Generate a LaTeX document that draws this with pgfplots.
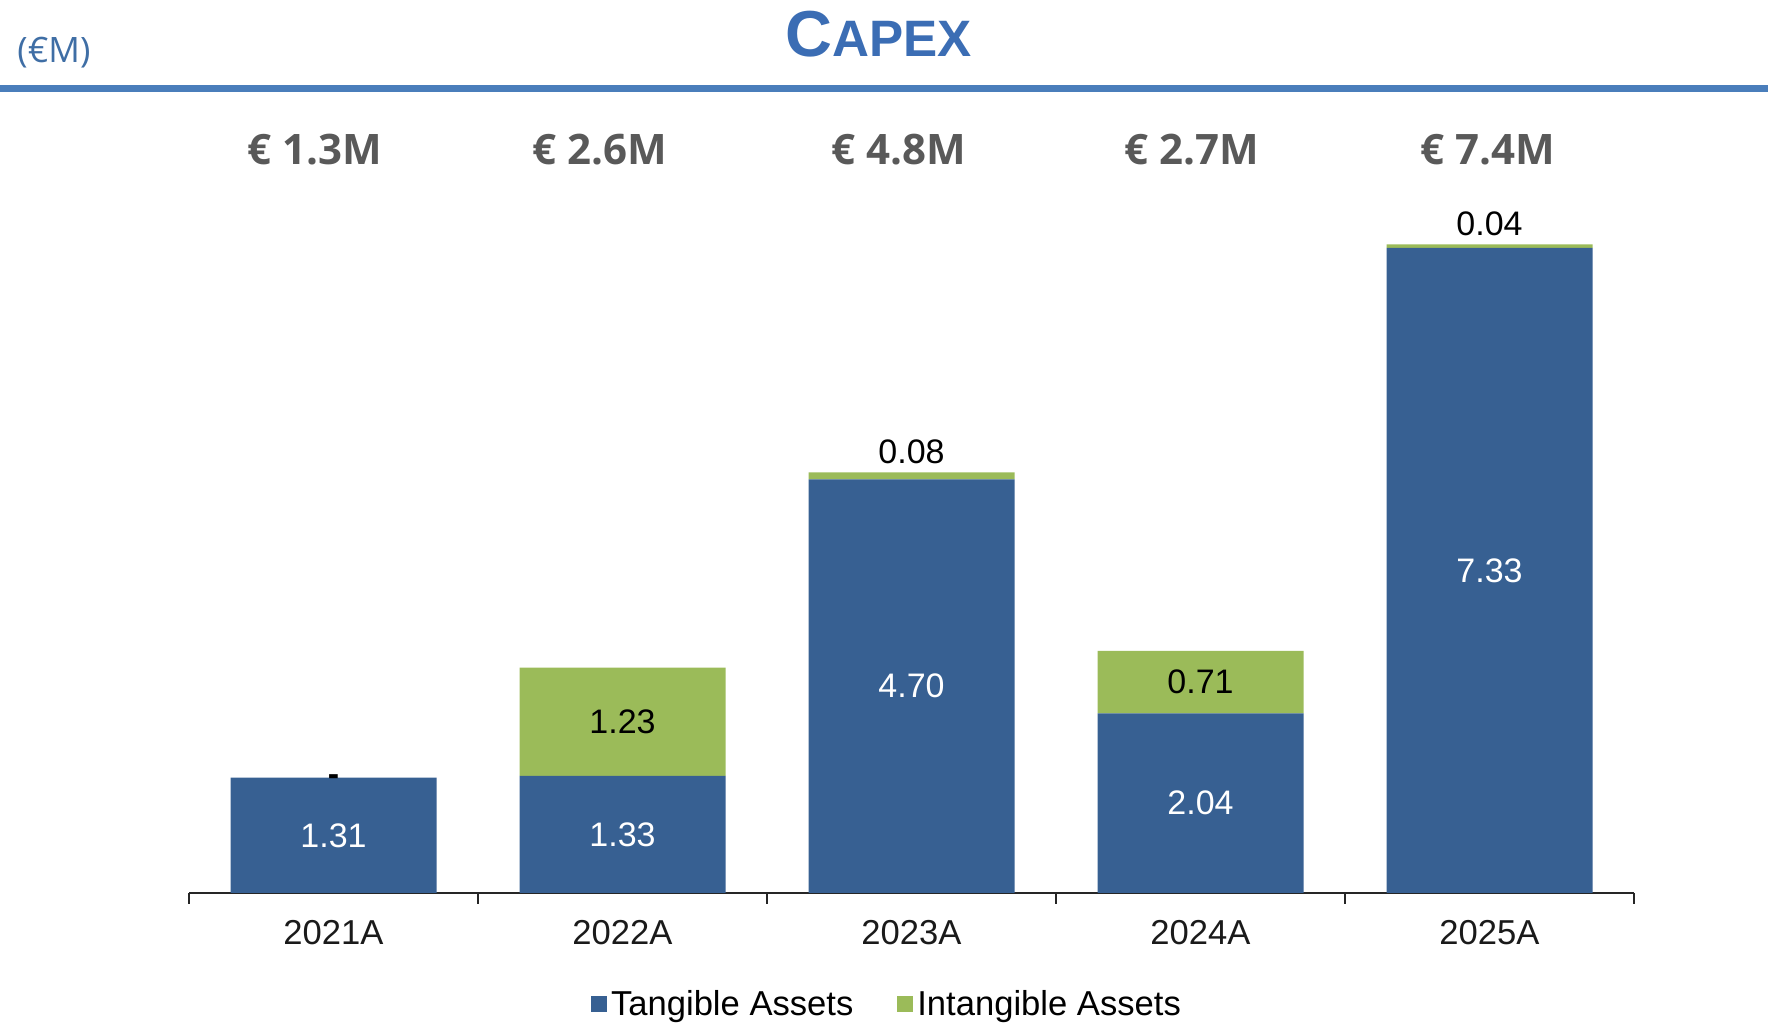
\documentclass[border=0pt]{standalone}
\usepackage{pgfplots}
\pgfplotsset{compat=1.18}
\usepackage{fontspec}
\setmainfont{Liberation Sans}
\newfontfamily\opensans{Open Sans}
\definecolor{tang}{HTML}{376092}
\definecolor{intang}{HTML}{9BBB59}
\definecolor{titleblue}{HTML}{3B6DB4}
\definecolor{rulecol}{HTML}{4A7EBB}
\definecolor{unitblue}{HTML}{3F6EA5}
\definecolor{totgray}{HTML}{595959}
\definecolor{axisgray}{HTML}{262626}
\definecolor{labelblack}{HTML}{1A1A1A}
\pgfplotsset{sqlegend/.style={legend image code/.code={\fill[##1] (0pt,-4pt) rectangle (8pt,4pt);}}}
\tikzset{dl/.style={font=\fontsize{17}{20}\selectfont, inner sep=0pt}}
\begin{document}
\begin{tikzpicture}
\useasboundingbox (0,0) rectangle (884pt,513.5pt);
\fill[rulecol] (0,467.5pt) rectangle (884pt,471pt);
\node[anchor=base, text=titleblue, inner sep=0pt] at (439.25pt,485pt) {\bfseries\fontsize{32.5}{36}\selectfont C\fontsize{25.6}{30}\selectfont APEX};
\node[anchor=base west, inner sep=0pt, text=unitblue] at (8.5pt,482pt) {\opensans\fontsize{17.5}{20}\selectfont (€M)};
\foreach \x/\t in {157.25/1.3, 300/2.6, 449.5/4.8, 596/2.7, 744/7.4}
  \node[anchor=base, inner sep=0pt, text=totgray] at (\x pt,431pt) {\opensans\bfseries\fontsize{21}{24}\selectfont € \t M};
\begin{axis}[
  at={(94.5pt,67pt)}, anchor=south west,
  scale only axis, width=722.5pt, height=352pt,
  xmin=-0.5, xmax=4.5, ymin=0, ymax=8,
  ybar stacked, bar width=103pt,
  axis x line*=bottom, axis y line=none,
  x axis line style={draw=axisgray, line width=1pt},
  xtick={0,...,4}, xticklabels={2021A,2022A,2023A,2024A,2025A},
  minor xtick={-0.5,0.5,...,4.5},
  major tick length=0pt, minor tick length=5.5pt,
  tick align=outside, tick style={draw=axisgray, line width=1pt},
  xticklabel style={font=\fontsize{17.3}{20}\selectfont, text=labelblack, yshift=-10pt},
  clip=false,
  legend columns=2,
  legend style={at={(0.4837,-0.158)}, anchor=center, draw=none, fill=none,
    font=\fontsize{17.3}{20}\selectfont,
    /tikz/every even column/.append style={column sep=20pt}},
]
\addplot[fill=tang, draw=none, sqlegend] coordinates {(0,1.31) (1,1.33) (2,4.70) (3,2.04) (4,7.33)};
\addplot[fill=intang, draw=none, sqlegend] coordinates {(0,0) (1,1.23) (2,0.08) (3,0.71) (4,0.04)};
\legend{Tangible Assets, Intangible Assets}
\coordinate (t0) at (axis cs:0,0.655);
\coordinate (t1) at (axis cs:1,0.665);
\coordinate (t2) at (axis cs:2,2.35);
\coordinate (t3) at (axis cs:3,1.02);
\coordinate (t4) at (axis cs:4,3.665);
\coordinate (i0) at (axis cs:0,1.28);
\coordinate (i1) at (axis cs:1,1.945);
\coordinate (i2) at (axis cs:2,4.78);
\coordinate (i3) at (axis cs:3,2.395);
\coordinate (i4) at (axis cs:4,7.37);
\end{axis}
\node[dl, text=white] at (t0) {1.31};
\node[dl, text=white] at (t1) {1.33};
\node[dl, text=white] at (t2) {4.70};
\node[dl, text=white] at (t3) {2.04};
\node[dl, text=white] at (t4) {7.33};
\node[dl, text=black] at (i0) {\bfseries -};
\node[dl, text=black] at (i1) {1.23};
\node[dl, text=black, anchor=base, yshift=4.5pt] at (i2) {0.08};
\node[dl, text=black] at (i3) {0.71};
\node[dl, text=black, anchor=base, yshift=4.5pt] at (i4) {0.04};
\end{tikzpicture}
\end{document}
